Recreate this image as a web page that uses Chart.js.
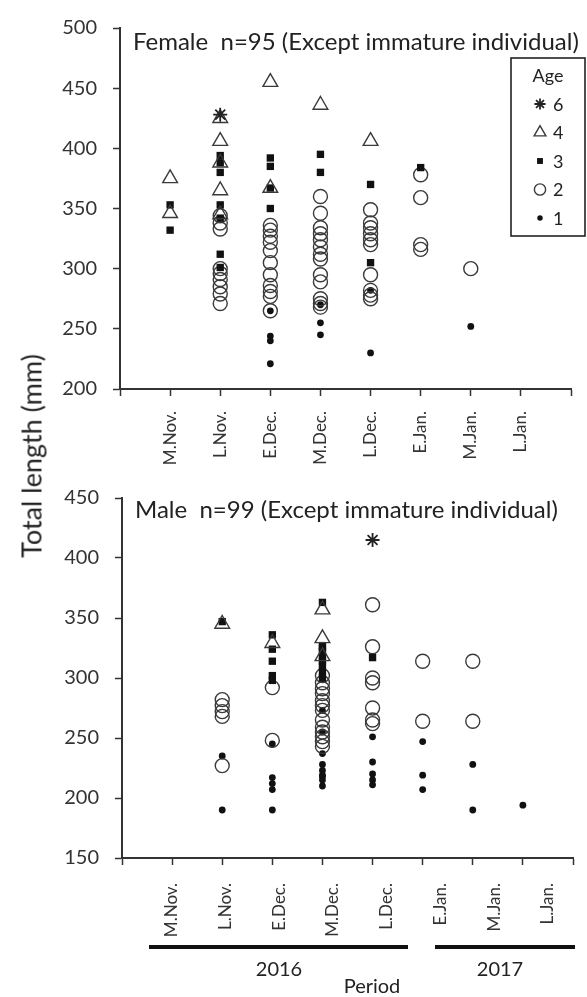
<!DOCTYPE html>
<html>
<head>
<meta charset="utf-8">
<script src="https://cdn.jsdelivr.net/npm/chart.js@4.4.1/dist/chart.umd.min.js"></script>
<style>
body{margin:0;background:#fff;font-family:Lato,sans-serif;color:#222;}
#wrap{position:relative;width:587px;height:997px;overflow:hidden;}
canvas{position:absolute;left:0;}
#cTop{top:0;}
#cBot{top:470px;}
.t{position:absolute;white-space:nowrap;transform:translate(-50%,-50%);font-size:20px;color:#222;}
#ytitle{left:31px;top:456px;transform:translate(-50%,-50%) rotate(-90deg);font-size:27px;}
.bar{position:absolute;top:945px;height:4px;background:#111;}
</style>
</head>
<body>
<div id="wrap">
  <canvas id="cTop" width="587" height="475"></canvas>
  <canvas id="cBot" width="587" height="527"></canvas>
  <div class="t" id="ytitle">Total length (mm)</div>
  <div class="bar" style="left:149px;width:259px"></div>
  <div class="bar" style="left:435px;width:140px"></div>
  <div class="t" style="left:279px;top:968px">2016</div>
  <div class="t" style="left:500px;top:968px">2017</div>
  <div class="t" style="left:372px;top:985px">Period</div>
</div>
<script>
var periods = ['M.Nov.', 'L.Nov.', 'E.Dec.', 'M.Dec.', 'L.Dec.', 'E.Jan.', 'M.Jan.', 'L.Jan.'];
var ages = ['6', '4', '3', '2', '1'];

// total length (mm), one list per period: M.Nov ... L.Jan
// female
var fAge6 = [[], [428], [], [], [], [], [], []];
var fAge4 = [[375, 346], [425, 406, 388, 365, 345], [455, 367], [436], [406], [], [], []];
var fAge3 = [[353, 332], [394, 388, 380, 353, 342, 312, 301], [392, 385, 367, 350], [395, 380], [370, 305], [384], [], []];
var fAge2 = [[], [344, 338, 333, 300, 296, 291, 285, 279, 271],
  [336, 332, 327, 322, 315, 305, 295, 286, 281, 277, 265],
  [360, 346, 334, 329, 324, 318, 312, 308, 295, 289, 275, 271, 268],
  [349, 338, 334, 329, 324, 320, 295, 282, 278, 275], [378, 359, 320, 316], [300], []];
var fAge1 = [[], [], [265, 244, 240, 221], [270, 255, 245], [282, 230], [], [252], []];

// male
var mAge6 = [[], [], [], [], [415], [], [], []];
var mAge4 = [[], [345], [329], [357, 333, 318], [], [], [], []];
var mAge3 = [[], [347], [336, 324, 314, 302, 298], [363, 327, 325, 322, 318, 314, 310, 305, 300], [317], [], [], []];
var mAge2 = [[], [282, 277, 272, 268, 227], [292, 248],
  [302, 296, 291, 287, 281, 277, 273, 265, 259, 255, 251, 247, 243],
  [361, 326, 300, 296, 275, 265, 262], [314, 264], [314, 264], []];
var mAge1 = [[], [235, 190], [245, 217, 212, 207, 190], [273, 255, 237, 228, 223, 219, 218, 215, 210],
  [251, 230, 220, 215, 211], [247, 219, 207], [228, 190], [194]];

var ink = '#222';
var markStyles = {
  '6': {pointStyle: 'star', pointRadius: 7, pointBorderWidth: 1.8, pointBorderColor: ink, pointBackgroundColor: ink},
  '4': {pointStyle: 'triangle', pointRadius: 8.5, pointBorderWidth: 1.4, pointBorderColor: '#3a3a3a', pointBackgroundColor: 'rgba(0,0,0,0)'},
  '3': {pointStyle: 'rect', pointRadius: 5.2, pointBorderWidth: 0, pointBorderColor: '#111', pointBackgroundColor: '#111'},
  '2': {pointStyle: 'circle', pointRadius: 7, pointBorderWidth: 1.4, pointBorderColor: '#3a3a3a', pointBackgroundColor: 'rgba(0,0,0,0)'},
  '1': {pointStyle: 'circle', pointRadius: 3.4, pointBorderWidth: 0, pointBorderColor: '#111', pointBackgroundColor: '#111'}
};

function toPoints(lists) {
  var out = [];
  lists.forEach(function (list, i) {
    list.forEach(function (v) { out.push({x: i + 1, y: v}); });
  });
  return out;
}

function makeSets(groups) {
  return groups.map(function (g, i) {
    var s = markStyles[ages[i]];
    return Object.assign({label: ages[i], data: toPoints(g), showLine: false,
      pointHoverRadius: s.pointRadius}, s);
  });
}

// text inside the plot, top left
var panelTitle = {
  id: 'panelTitle',
  afterDraw: function (chart, args, o) {
    var ctx = chart.ctx, a = chart.chartArea;
    ctx.save();
    ctx.fillStyle = ink;
    ctx.font = '24px Lato';
    ctx.textBaseline = 'middle';
    ctx.fillText(o.text, a.left + 13, a.top + o.dy);
    ctx.restore();
  }
};

// boxed "Age" key, drawn from the datasets' own point styles
var ageKey = {
  id: 'ageKey',
  afterDraw: function (chart, args, o) {
    if (!o.show) return;
    var ctx = chart.ctx;
    ctx.save();
    ctx.strokeStyle = ink;
    ctx.lineWidth = 1.6;
    ctx.strokeRect(o.x, o.y, o.w, o.h);
    ctx.fillStyle = ink;
    ctx.font = '18px Lato';
    ctx.textBaseline = 'middle';
    ctx.textAlign = 'center';
    ctx.fillText('Age', o.x + o.w / 2, o.y + 18);
    chart.data.datasets.forEach(function (ds, i) {
      var y = o.y + 46 + i * 28.5;
      ctx.fillStyle = ds.pointBackgroundColor;
      ctx.strokeStyle = ds.pointBorderColor;
      ctx.lineWidth = ds.pointBorderWidth;
      Chart.helpers.drawPoint(ctx, {pointStyle: ds.pointStyle, radius: ds.pointRadius * 0.8,
        borderWidth: ds.pointBorderWidth, rotation: 0}, o.x + 29, y);
      ctx.fillStyle = ink;
      ctx.textAlign = 'left';
      ctx.fillText(ds.label, o.x + 42, y + 1);
    });
    ctx.restore();
  }
};

function noPad(s) { s.paddingLeft = 0; s.paddingRight = 0; }

function yAxis(min, max, w) {
  return {
    min: min, max: max,
    ticks: {stepSize: 50, color: '#333', font: {family: 'Lato', size: 20}, padding: 16},
    grid: {drawOnChartArea: false, drawTicks: true, tickLength: 7, color: '#333', tickWidth: 1.5},
    border: {color: '#333', width: 2},
    afterFit: function (s) { s.width = w; }
  };
}

var xTickFont = {family: 'Lato', size: 17};

new Chart(document.getElementById('cTop'), {
  type: 'scatter',
  data: {datasets: makeSets([fAge6, fAge4, fAge3, fAge2, fAge1])},
  options: {
    responsive: false, animation: false, events: [],
    layout: {padding: {top: 22, right: 16, left: 0, bottom: 0}},
    plugins: {
      legend: {display: false}, tooltip: {enabled: false},
      panelTitle: {text: 'Female  n=95 (Except immature individual)', dy: 14},
      ageKey: {show: true, x: 511, y: 58, w: 74, h: 178}
    },
    scales: {
      x: {
        type: 'linear', min: 0, max: 9,
        ticks: {stepSize: 1, autoSkip: false, minRotation: 90, maxRotation: 90, padding: 15,
          color: '#333', font: xTickFont,
          callback: function (v) { return periods[v - 1] || ''; }},
        grid: {drawOnChartArea: false, drawTicks: true, tickLength: 7, color: '#333', tickWidth: 1.5},
        border: {color: '#333', width: 2},
        afterFit: function (s) { s.height = 475 - 389; noPad(s); }
      },
      y: yAxis(200, 500, 120)
    }
  },
  plugins: [panelTitle, ageKey]
});

new Chart(document.getElementById('cBot'), {
  type: 'scatter',
  data: {datasets: makeSets([mAge6, mAge4, mAge3, mAge2, mAge1])},
  options: {
    responsive: false, animation: false, events: [],
    layout: {padding: {top: 23, right: 14, left: 0, bottom: 0}},
    plugins: {
      legend: {display: false}, tooltip: {enabled: false},
      panelTitle: {text: 'Male  n=99 (Except immature individual)', dy: 12},
      ageKey: {show: false}
    },
    scales: {
      x: {
        type: 'linear', min: 0, max: 9,
        ticks: {stepSize: 1, display: false},
        grid: {drawOnChartArea: false, drawTicks: true, tickLength: 7, color: '#333', tickWidth: 1.5},
        border: {color: '#333', width: 2},
        afterFit: function (s) { s.height = 7; noPad(s); }
      },
      // period names in this panel sit slightly wider apart than the ticks
      x2: {
        type: 'linear', position: 'bottom', weight: 1, min: 0.07, max: 8.47,
        ticks: {stepSize: 1, includeBounds: false, autoSkip: false, minRotation: 90, maxRotation: 90,
          padding: 10, color: '#333', font: xTickFont,
          callback: function (v) { return periods[v - 1] || ''; }},
        grid: {display: false},
        border: {display: false},
        afterFit: function (s) { s.height = 527 - 23 - 365 - 7; noPad(s); }
      },
      y: yAxis(150, 450, 122)
    }
  },
  plugins: [panelTitle, ageKey]
});
</script>
</body>
</html>
